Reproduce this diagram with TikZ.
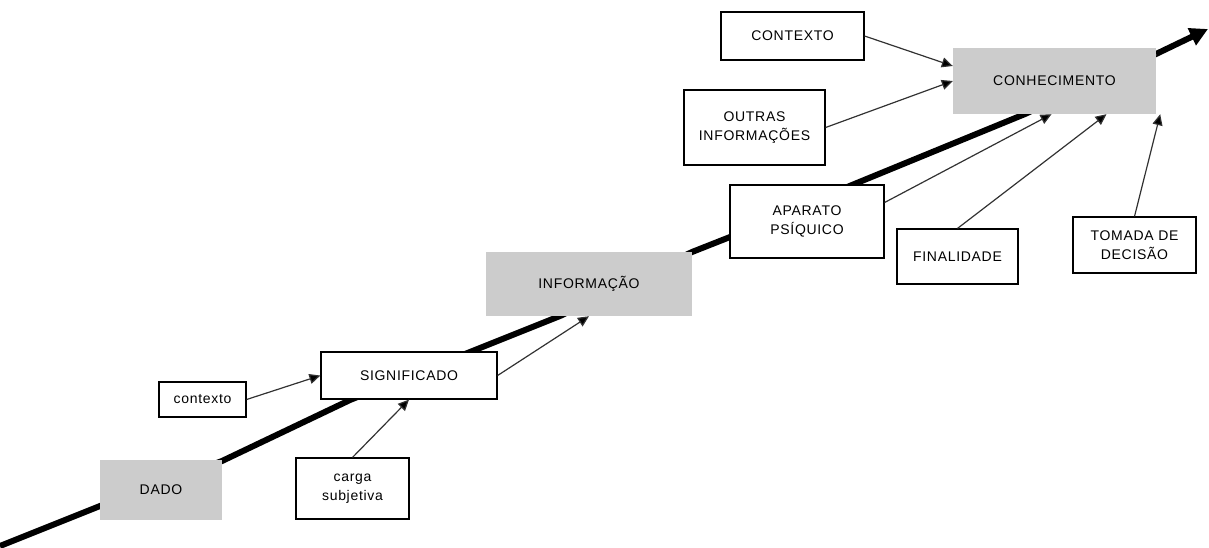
\documentclass[tikz,border=0pt]{standalone}
\usepackage{fontspec}
\setmainfont{Liberation Sans}[LetterSpace=5]
\usetikzlibrary{arrows.meta,shadows}
\definecolor{boxgray}{RGB}{204,204,204}
\definecolor{arrowgray}{RGB}{50,50,50}
\begin{document}
\begin{tikzpicture}[x=1pt,y=-1pt,
  every node/.style={font=\fontsize{14}{19}\selectfont, align=center, inner sep=0pt},
  graybox/.style={fill=boxgray, draw=none},
  whitebox/.style={fill=white, draw=black, line width=1.2pt,
     drop shadow={shadow xshift=1.2pt, shadow yshift=-1.2pt, fill=black, opacity=1}},
  thinarrow/.style={draw=arrowgray, line width=1.2pt, -{Triangle[length=11pt,width=10pt,fill=black]}},
  spine/.style={draw=black, line width=6pt, line join=round}
]
\useasboundingbox (0,0) rectangle (1209,547);

% spine (drawn first, passes behind boxes)
\coordinate (s0) at (0,546);
\coordinate (s1) at (100,506);
\coordinate (s2) at (222,461);
\coordinate (s3) at (350,400);
\coordinate (s4) at (470,352);
\coordinate (s5) at (560,316);
\coordinate (s6) at (692,252);
\coordinate (s7) at (730,237);
\coordinate (s8) at (852,185);
\coordinate (s9) at (1025,114);
\coordinate (s10) at (1156,54);
\coordinate (s11) at (1208,29);
\draw[spine] (s0) -- (s1) -- (s2) -- (s3) -- (s4) -- (s5) -- (s6) -- (s7) -- (s8) -- (s9) -- (s10);
\draw[draw=black, line width=6pt, -{Triangle[length=18pt,width=18pt]}] (s10) -- (s11);

% boxes
\node[graybox, minimum width=122pt, minimum height=60pt] (dado) at (161,490) {DADO};
\node[whitebox, minimum width=113pt, minimum height=61pt] (carga) at (352.5,488.5) {carga\\subjetiva};
\node[whitebox, minimum width=87pt, minimum height=35pt] (ctxlow) at (202.5,399.5) {contexto};
\node[whitebox, minimum width=176pt, minimum height=47pt] (sig) at (409,375.5) {SIGNIFICADO};
\node[graybox, minimum width=206pt, minimum height=64pt] (info) at (589,284) {INFORMAÇÃO};
\node[whitebox, minimum width=154pt, minimum height=73pt] (apar) at (807,221.5) {APARATO\\PSÍQUICO};
\node[whitebox, minimum width=121pt, minimum height=55pt] (fin) at (957.5,256.5) {FINALIDADE};
\node[whitebox, minimum width=123pt, minimum height=56pt] (tom) at (1134.5,245) {TOMADA DE\\DECISÃO};
\node[whitebox, minimum width=143pt, minimum height=48pt] (ctxup) at (792.5,36) {CONTEXTO};
\node[whitebox, minimum width=141pt, minimum height=75pt] (outras) at (754.5,127.5) {OUTRAS\\INFORMAÇÕES};
\node[graybox, minimum width=203pt, minimum height=66pt] (con) at (1054.5,81) {CONHECIMENTO};

% thin arrows
\draw[thinarrow] (ctxlow.east) -- (sig.west);
\draw[thinarrow] (carga.north) -- (sig.south);
\draw[thinarrow] (sig.east) -- (info.south);
\draw[thinarrow] ([yshift=19pt]apar.east) -- ([xshift=-3pt]con.south);
\draw[thinarrow] (fin.north) -- ([xshift=52pt]con.south);
\draw[thinarrow] (tom.north) -- ([xshift=4pt]con.south east);
\draw[thinarrow] (ctxup.east) -- ([yshift=15pt]con.west);
\draw[thinarrow] (outras.east) -- (con.west);
\end{tikzpicture}
\end{document}
